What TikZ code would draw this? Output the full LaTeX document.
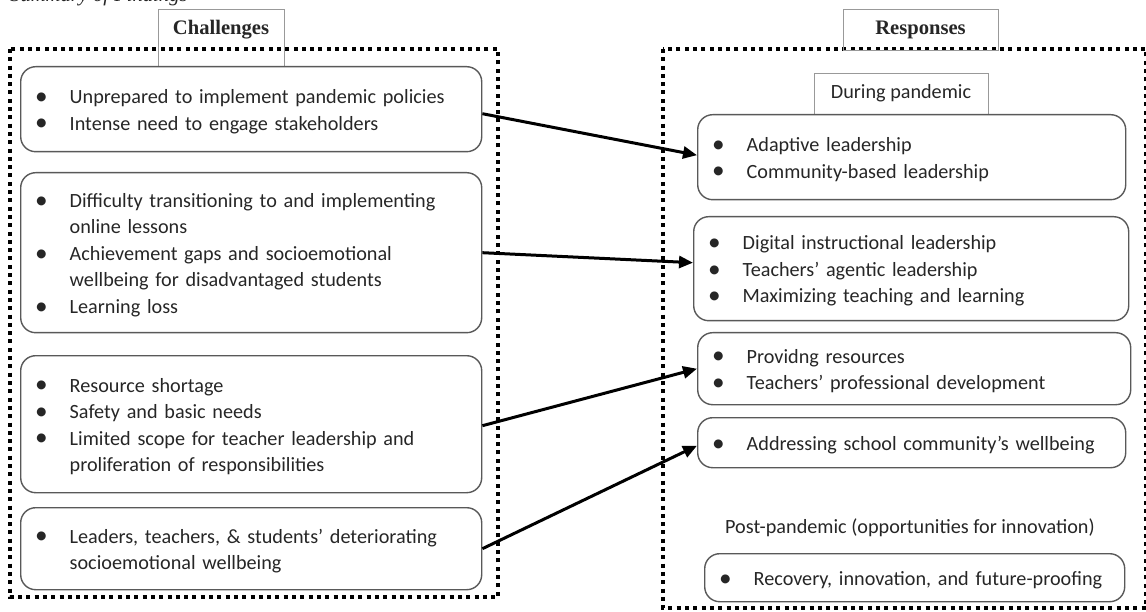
\documentclass[tikz,border=0pt]{standalone}
\usepackage{fontspec}
\setmainfont{Carlito}
\newfontfamily\headfont{Liberation Serif}
\usetikzlibrary{arrows.meta,calc}

% invisible strut that fixes the height and depth of every list line
\newcommand{\lstrut}{\rule[-4.5pt]{0pt}{24.5pt}}
% one bulleted line, and a wrapped continuation line
\newcommand{\itm}[1]{\lstrut\makebox[31pt][l]{\hspace{-3.5pt}\raisebox{-0.6pt}{\scalebox{1.25}{\textbullet}}}\mbox{#1}}
\newcommand{\cont}[1]{\lstrut\hspace*{31pt}\mbox{#1}}

\begin{document}
\begin{tikzpicture}[x=1pt,y=-1pt,
  every node/.style={text=black!85, font=\fontsize{20.2}{26.5}\selectfont},
  frame/.style={line width=4pt, dash pattern=on 4pt off 4.3pt, draw=black},
  itembox/.style={draw=black!65, line width=1.4pt, rounded corners=15pt,
    inner xsep=18pt, inner ysep=0pt, align=left, anchor=north west},
  headbox/.style={draw=black!40, line width=0.8pt, inner sep=0pt},
  headtext/.style={font=\headfont\bfseries\fontsize{20.6}{24}\selectfont},
  link/.style={line width=3pt, draw=black, -{Triangle[length=14pt,width=12pt]}}
]
\useasboundingbox (0,0) rectangle (1146,612);
\clip (0,0) rectangle (1146,612);

% caption line above the figure, mostly above the page edge
\node[anchor=base west, inner sep=0pt, font=\headfont\itshape\fontsize{20.6}{24}\selectfont]
  (caption) at (10,1.5) {Summary of Findings};

% the two dotted frames
\draw[frame] (10,49) rectangle (498,597);
\draw[frame] (663,49) rectangle (1146,608);

% headings
\node[headbox, minimum width=126pt, minimum height=57pt] (chalbox) at (221,37.5) {};
\node[headtext] (chal) at (221,30) {Challenges};
\node[headbox, minimum width=155pt, minimum height=41pt] (respbox) at (920.5,29.5) {};
\node[headtext] (resp) at (920.5,30) {Responses};
\node[headbox, minimum width=174pt, minimum height=41pt] (during) at (901,93.5) {During pandemic};

% challenges
\node[itembox, minimum width=461pt, minimum height=85pt, text width=425pt] (c1) at (20,66)
  {\itm{Unprepared to implement pandemic policies}\\
   \itm{Intense need to engage stakeholders}};
\node[itembox, minimum width=461pt, minimum height=160pt, text width=425pt] (c2) at (20,172)
  {\itm{Difficulty transitioning to and implementing}\\
   \cont{online lessons}\\
   \itm{Achievement gaps and socioemotional}\\
   \cont{wellbeing for disadvantaged students}\\
   \itm{Learning loss}};
\node[itembox, minimum width=461pt, minimum height=137pt, text width=425pt] (c3) at (20,355)
  {\itm{Resource shortage}\\
   \itm{Safety and basic needs}\\
   \itm{Limited scope for teacher leadership and}\\
   \cont{proliferation of responsibilities}};
\node[itembox, minimum width=461pt, minimum height=82pt, text width=425pt] (c4) at (20,507)
  {\itm{Leaders, teachers, \& students’ deteriorating}\\
   \cont{socioemotional wellbeing}};

% responses
\node[itembox, minimum width=428pt, minimum height=85pt, text width=392pt] (r1) at (697,114)
  {\itm{Adaptive leadership}\\
   \itm{Community-based leadership}};
\node[itembox, minimum width=435pt, minimum height=104pt, text width=399pt] (r2) at (693,216)
  {\itm{Digital instructional leadership}\\
   \itm{Teachers’ agentic leadership}\\
   \itm{Maximizing teaching and learning}};
\node[itembox, minimum width=433pt, minimum height=72pt, text width=397pt] (r3) at (697,332)
  {\itm{Providng resources}\\
   \itm{Teachers’ professional development}};
\node[itembox, minimum width=428pt, minimum height=50pt, text width=392pt] (r4) at (697,417)
  {\itm{Addressing school community’s wellbeing}};
\node (post) at (910,528) {Post-pandemic (opportunities for innovation)};
\node[itembox, minimum width=420pt, minimum height=48pt, text width=384pt] (r5) at (704,553)
  {\itm{Recovery, innovation, and future-proofing}};

% links from challenges to responses
\draw[link] ($(c1.east)+(0,4.5)$) -- ($(r1.west)+(0,-2)$);
\draw[link] (c2.east) -- ($(r2.west)+(0,-6)$);
\draw[link] ($(c3.east)+(0,1.5)$) -- (r3.west);
\draw[link] (c4.east) -- ($(r4.west)+(0,3)$);
\end{tikzpicture}
\end{document}
